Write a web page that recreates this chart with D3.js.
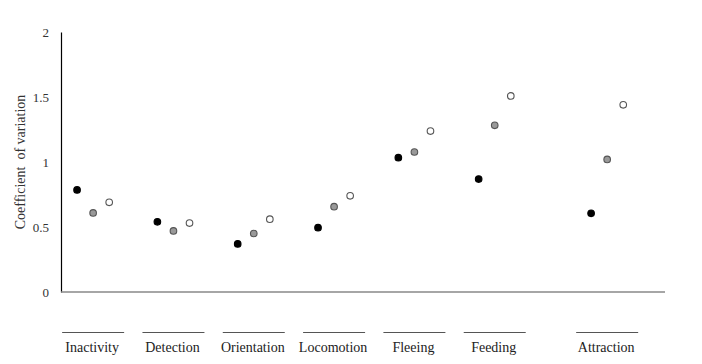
<!DOCTYPE html>
<html>
<head>
<meta charset="utf-8">
<script src="https://cdn.jsdelivr.net/npm/d3@7"></script>
<style>
  body { margin: 0; background: #fff; }
</style>
</head>
<body>
<div id="chart"></div>
<script>
// Coefficient of variation per behaviour, three series (black / grey / white markers)

const categories = ["Inactivity", "Detection", "Orientation", "Locomotion", "Fleeing", "Feeding", "Attraction"];
const positions = [1, 2, 3, 4, 5, 6, 7.4];
const seriesBlack = [0.785, 0.54, 0.37, 0.495, 1.033, 0.869, 0.605];
const seriesGrey  = [0.608, 0.47, 0.45, 0.656, 1.077, 1.282, 1.02];
const seriesWhite = [0.69, 0.53, 0.56, 0.74, 1.238, 1.508, 1.44];
const yTicks = [0, 0.5, 1, 1.5, 2];

const width = 702,
    height = 364,
    margin = ({top: 32, right: 37, bottom: 72, left: 61});

const serif = "Liberation Serif";

let svg = d3.select("#chart")
    .append("svg")
    .attr("width", width)
    .attr("height", height)
    .attr("viewBox", [0, 0, width, height])
    .attr("font-family", serif);

const x = d3.scaleLinear()
    .domain([0.6, 8.12])
    .range([margin.left, width - margin.right]);

const y = d3.scaleLinear()
    .domain([0, 2])
    .range([height - margin.bottom, margin.top]);

// y-axis: black line, labels only
const yAxis = g => g
    .attr("transform", `translate(${margin.left},0)`)
    .call(d3.axisLeft(y).tickValues(yTicks).tickSize(0).tickPadding(12).tickFormat(d3.format("")))
    .attr("font-family", serif)
    .call(g => g.select(".domain").attr("stroke", "#000").attr("stroke-width", 1.2))
    .call(g => g.selectAll("text")
        .attr("font-size", 13)
        .attr("fill", "#333"));

svg.append("g").call(yAxis);

// x-axis: plain grey baseline
svg.append("line")
    .attr("x1", x(0.6))
    .attr("x2", x(8.12))
    .attr("y1", y(0))
    .attr("y2", y(0))
    .attr("stroke", "#888")
    .attr("stroke-width", 1.5);

// y title
svg.append("text")
    .attr("transform", `translate(25,${y(1)}) rotate(-90)`)
    .attr("text-anchor", "middle")
    .attr("font-size", 14)
    .attr("fill", "#333")
    .style("white-space", "pre")
    .text("Coefficient  of variation");

// category labels with a line above each
const data = categories.map((c, i) => ({
    cat: c,
    pos: positions[i],
    vals: [seriesBlack[i], seriesGrey[i], seriesWhite[i]]
}));

let lab = svg.selectAll(".lab")
    .data(data)
    .join("g")
    .attr("class", "lab");

lab.append("line")
    .attr("x1", d => x(d.pos) - 31)
    .attr("x2", d => x(d.pos) + 31)
    .attr("y1", 332.5)
    .attr("y2", 332.5)
    .attr("stroke", "#555")
    .attr("stroke-width", 1.2);

lab.append("text")
    .text(d => d.cat)
    .attr("x", d => x(d.pos) - 1)
    .attr("y", 352)
    .attr("text-anchor", "middle")
    .attr("font-size", 14)
    .attr("fill", "#222");

// markers
const styles = [
    {off: -0.2, fill: "#000", stroke: "#000"},
    {off: 0, fill: "#999", stroke: "#555"},
    {off: 0.2, fill: "#fff", stroke: "#555"}
];

let pts = [];
data.forEach(d => d.vals.forEach((v, j) => pts.push({pos: d.pos + styles[j].off, v: v, s: styles[j]})));

svg.selectAll(".pt")
    .data(pts)
    .join("circle")
    .attr("class", "pt")
    .attr("cx", d => x(d.pos))
    .attr("cy", d => y(d.v))
    .attr("r", 3.3)
    .attr("fill", d => d.s.fill)
    .attr("stroke", d => d.s.stroke)
    .attr("stroke-width", 1.1);
</script>
</body>
</html>
